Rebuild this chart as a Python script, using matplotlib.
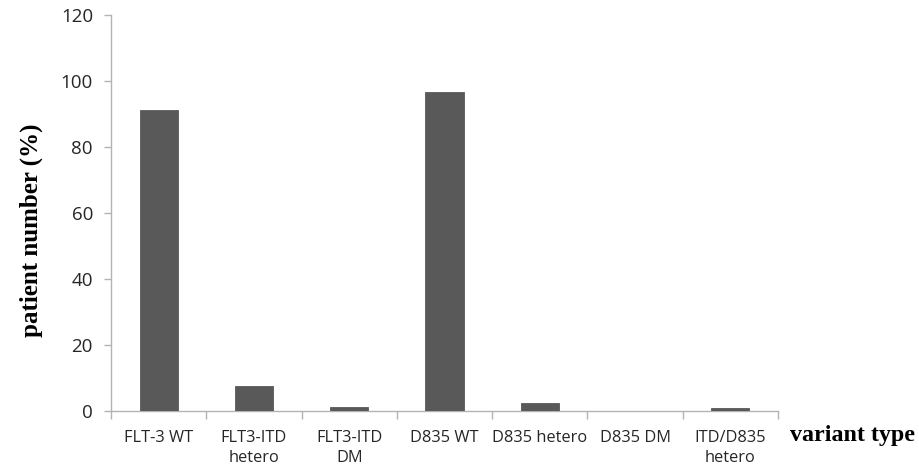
import matplotlib
matplotlib.use("Agg")
import matplotlib.pyplot as plt
import numpy as np

categories = ["FLT-3 WT", "FLT3-ITD\nhetero", "FLT3-ITD\nDM", "D835 WT",
              "D835 hetero", "D835 DM", "ITD/D835\nhetero"]
values = [91.2, 7.7, 1.2, 96.6, 2.4, 0.0, 0.9]
yticks = [0, 20, 40, 60, 80, 100, 120]

fig = plt.figure(figsize=(9.19, 4.68), dpi=100)
ax = fig.add_axes([111/919, 57/468, (778-111)/919, (411-15)/468])

x = np.arange(len(categories))
ax.bar(x, values, width=0.4, color="#595959", edgecolor="#595959", linewidth=0.6, zorder=3)

ax.set_xlim(-0.5, len(categories) - 0.5)
ax.set_ylim(0, 120)
ax.set_yticks(yticks)
ax.set_yticklabels([str(v) for v in yticks])

axis_color = "#b3b3b3"
for s in ["top", "right"]:
    ax.spines[s].set_visible(False)
for s in ["left", "bottom"]:
    ax.spines[s].set_color(axis_color)
    ax.spines[s].set_linewidth(1.0)

tick_font = dict(family=["Open Sans", "DejaVu Sans"], size=11.8, color="#262626")
ax.set_xticks(x)
ax.set_xticklabels(categories, linespacing=1.3, **tick_font)
ax.tick_params(axis="x", which="major", length=0, pad=14)
ax.set_xticks(np.arange(-0.5, len(categories)), minor=True)
ax.tick_params(axis="x", which="minor", length=6, color=axis_color, width=1.0, direction="out")
ax.tick_params(axis="y", length=5, color=axis_color, width=1.0, direction="out", pad=8)
for lab in ax.get_yticklabels():
    lab.set_fontfamily(["Open Sans", "DejaVu Sans"])
    lab.set_fontsize(13.5)
    lab.set_color("#262626")

fig.text(31/919, 1 - 230/468, "patient number (%)", rotation=90, ha="center", va="center",
         family=["Liberation Serif", "DejaVu Serif"], weight="bold", size=18)
fig.text(853/919, 1 - 436/468, "variant type", ha="center", va="center",
         family=["Liberation Serif", "DejaVu Serif"], weight="bold", size=17.3)

fig.savefig("out.png", dpi=100)
